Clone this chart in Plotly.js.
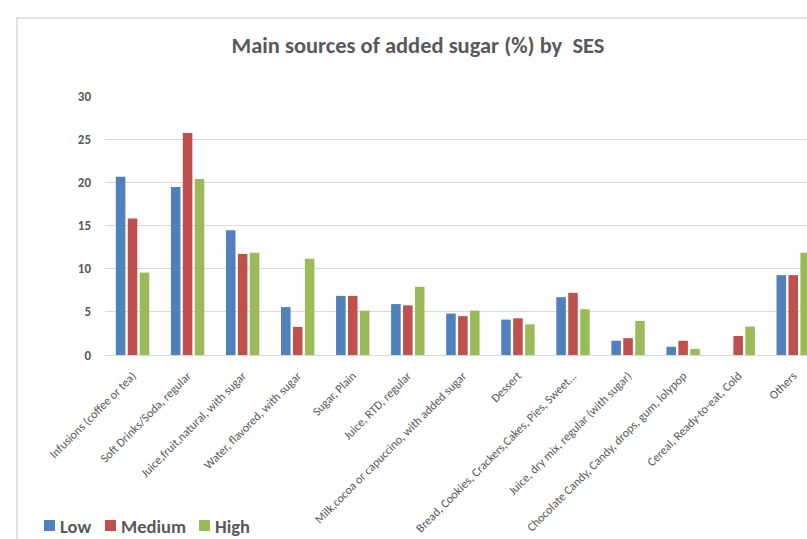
<!DOCTYPE html>
<html>
<head>
<meta charset="utf-8">
<script src="https://cdn.plot.ly/plotly-3.0.1.min.js"></script>
<style>html,body{margin:0;padding:0;background:#fff;}#chart{width:807px;height:539px;}</style>
</head>
<body>
<div id="chart"></div>
<script>
const categories = [
  "Infusions (coffee or tea)",
  "Soft Drinks/Soda, regular",
  "Juice,fruit,natural, with sugar",
  "Water, flavored, with sugar",
  "Sugar, Plain",
  "Juice, RTD, regular",
  "Milk,cocoa or capuccino, with added sugar",
  "Dessert",
  "Bread, Cookies, Crackers,Cakes, Pies, Sweet...",
  "Juice, dry mix, regular (with sugar)",
  "Chocolate Candy, Candy, drops, gum, lolypop",
  "Cereal, Ready-to-eat, Cold",
  "Others"
];
const lowValues    = [20.65, 19.45, 14.45, 5.55, 6.85, 5.9, 4.8, 4.1, 6.7, 1.65, 0.95, 0, 9.25];
const mediumValues = [15.8, 25.7, 11.7, 3.25, 6.85, 5.75, 4.5, 4.25, 7.2, 1.95, 1.65, 2.2, 9.25];
const highValues   = [9.55, 20.4, 11.85, 11.15, 5.15, 7.9, 5.15, 3.55, 5.3, 3.95, 0.7, 3.3, 11.85];
const seriesNames = ["Low", "Medium", "High"];
const seriesColors = ["#4F81BD", "#C0504D", "#9BBB59"];

const font = "Calibri, Carlito, Lato, 'Open Sans', sans-serif";
const values = [lowValues, mediumValues, highValues];
const traces = values.map((v, i) => ({
  type: "bar",
  name: seriesNames[i],
  x: categories,
  y: v,
  marker: {color: seriesColors[i], line: {width: 0}},
  hoverinfo: "none",
  showlegend: false
}));

// custom legend (square + label) placed like the reference
const plotL = 105, plotW = 702, plotB = 355, plotH = 259;
const px = x => (x - plotL) / plotW;
const py = y => (plotB - y) / plotH;
const legendSquareX = [44, 105, 199];
const legendShapes = seriesNames.map((n, i) => ({
  type: "rect", xref: "paper", yref: "paper",
  x0: px(legendSquareX[i]), x1: px(legendSquareX[i] + 11),
  y0: py(531), y1: py(520),
  fillcolor: seriesColors[i], line: {width: 0}
}));
const legendAnnotations = seriesNames.map((n, i) => ({
  text: n, xref: "paper", yref: "paper",
  x: px(legendSquareX[i] + 14), xanchor: "left",
  y: py(526), yanchor: "middle",
  showarrow: false,
  font: {family: font, size: 18.5, color: "#595959", weight: "bold"}
}));

const layout = {
  width: 807, height: 539,
  margin: {l: 105, r: 0, t: 96, b: 184},
  paper_bgcolor: "#ffffff",
  plot_bgcolor: "#ffffff",
  barmode: "group",
  bargap: 0.35,
  bargroupgap: 0.2,
  title: {
    text: "Main sources of added sugar (%) by  SES",
    font: {family: font, size: 22.5, color: "#595959", weight: "bold"},
    x: px(418), xanchor: "center", xref: "paper",
    y: 0.917, yanchor: "middle"
  },
  xaxis: {
    type: "category",
    range: [-0.5, 12.25],
    tickangle: -45,
    tickfont: {family: font, size: 12.1, color: "#595959"},
    showgrid: false,
    showline: true,
    linecolor: "#D9D9D9",
    linewidth: 1,
    ticks: "",
    ticklabelstandoff: 8,
    automargin: false
  },
  yaxis: {
    range: [0, 30],
    tickvals: [0, 5, 10, 15, 20, 25, 30],
    tickfont: {family: font, size: 13, color: "#595959", weight: "bold"},
    showgrid: true,
    gridcolor: "#D9D9D9",
    gridwidth: 1,
    zeroline: false,
    showline: false,
    ticks: "",
    ticklabelstandoff: 13,
    automargin: false
  },
  annotations: legendAnnotations,
  shapes: [{
    type: "rect", xref: "paper", yref: "paper",
    x0: px(17), x1: 1.1,
    y0: -0.8, y1: py(18),
    line: {color: "#D9D9D9", width: 1.5},
    fillcolor: "rgba(0,0,0,0)",
    layer: "below"
  }].concat(legendShapes),
  showlegend: false
};

Plotly.newPlot("chart", traces, layout, {displayModeBar: false, staticPlot: true});
</script>
</body>
</html>
